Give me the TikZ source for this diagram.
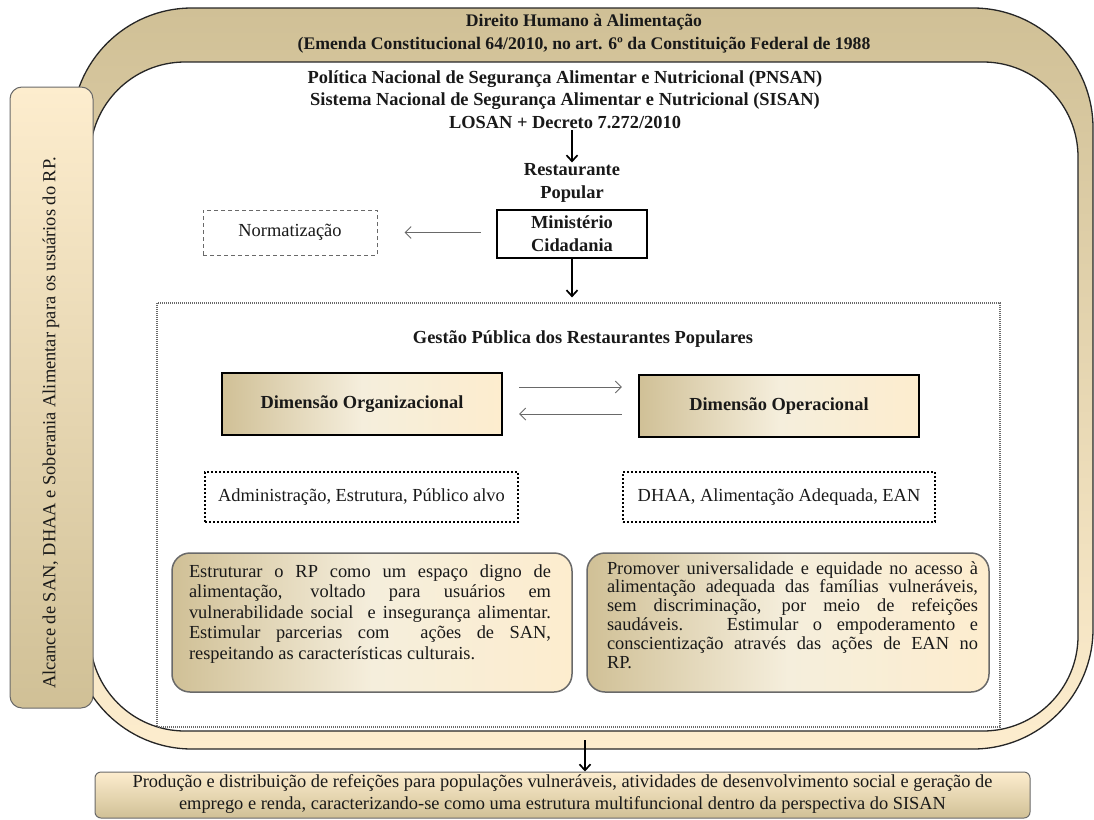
\documentclass[tikz,border=0pt]{standalone}
\usepackage{fontspec}
\setmainfont{Liberation Serif}
\usetikzlibrary{arrows.meta}
\definecolor{tanD}{RGB}{208,192,150}
\definecolor{creamL}{RGB}{253,237,206}
\definecolor{creamM}{RGB}{245,238,220}
\definecolor{txt}{RGB}{25,25,25}
\definecolor{grayline}{RGB}{105,105,105}
\tikzset{
  frameouter/.style={draw=black!85, line width=1.3pt, rounded corners=120pt, top color=tanD, bottom color=creamL},
  frameinner/.style={draw=black!85, line width=1.3pt, rounded corners=95pt, fill=white},
  sidebar/.style={draw=grayline, line width=1pt, rounded corners=12pt, top color=creamL, bottom color=tanD},
  banner/.style={draw=grayline, line width=1pt, rounded corners=6pt, top color=creamL, bottom color=tanD},
  plain/.style={text=txt, font=\fontsize{18.4}{22}\selectfont, align=center, inner sep=1pt},
  boldtxt/.style={text=txt, font=\fontsize{18.4}{22.7}\selectfont\bfseries, align=center, inner sep=1pt},
  titletxt/.style={text=txt, font=\fontsize{17.7}{23}\selectfont\bfseries, align=center, inner sep=1pt},
  minbox/.style={draw=black, line width=2.2pt, fill=white},
  normbox/.style={draw=grayline, line width=1pt, dash pattern=on 4pt off 3pt},
  gestbox/.style={draw=grayline, line width=1.2pt, dash pattern=on 1pt off 1pt},
  dimbox/.style={draw=black, line width=2.2pt, left color=tanD, right color=creamL, middle color=creamM},
  dotbox/.style={draw=black, line width=2pt, dash pattern=on 2pt off 2pt},
  roundbox/.style={draw=grayline, line width=1.5pt, rounded corners=18pt, left color=tanD, right color=creamL, middle color=creamM},
  bigarrow/.style={draw=black, line width=1.7pt, -{Straight Barb[length=6pt,width=11pt,line width=1.7pt]}},
  thinarrow/.style={draw=grayline, line width=0.9pt, -{Straight Barb[length=6pt,width=12pt,line width=0.9pt]}},
  paraL/.style={text=txt, font=\fontsize{18.4}{20.5}\selectfont, align=justify, inner sep=0pt},
  paraR/.style={text=txt, font=\fontsize{18.4}{18.9}\selectfont, align=justify, inner sep=0pt}
}
\begin{document}
\begin{tikzpicture}[x=1pt,y=-1pt]
\useasboundingbox (0,0) rectangle (1094,819);
% frame
\node[frameouter, minimum width=1021pt, minimum height=741pt] (outer) at (582.5,378.5) {};
\node[frameinner, minimum width=988pt, minimum height=669pt] (inner) at (584,396.5) {};
% side bar
\node[sidebar, minimum width=83pt, minimum height=621pt] (bar) at (51.5,397.5) {};
\node[plain, rotate=90] (bartext) at (51,423) {Alcance de SAN, DHAA e Soberania Alimentar para os usuários do RP.};
% banner
\node[banner, minimum width=935pt, minimum height=46pt] (banner) at (562.5,795) {};
\node[plain] (bannertext) at (562.5,794) {Produção e distribuição de refeições para populações vulneráveis, atividades de desenvolvimento social e geração de\\emprego e renda, caracterizando-se como uma estrutura multifuncional dentro da perspectiva do SISAN};
% titles
\node[titletxt] (title) at (584,34) {Direito Humano à Alimentação\\(Emenda Constitucional 64/2010, no art. 6º da Constituição Federal de 1988};
\node[boldtxt] (pnsan) at (565,99.5) {Política Nacional de Segurança Alimentar e Nutricional (PNSAN)\\Sistema Nacional de Segurança Alimentar e Nutricional (SISAN)\\LOSAN + Decreto 7.272/2010};
\node[boldtxt] (rp) at (572,183) {Restaurante\\Popular};
\node[minbox, minimum width=150pt, minimum height=48pt] (min) at (572,234) {};
\node[boldtxt] (mintext) at (min.center) {Ministério\\Cidadania};
\node[normbox, minimum width=174pt, minimum height=45pt] (norm) at (290,232.5) {};
\node[plain] (normtext) at (norm.center) {Normatização};
% gestao
\node[gestbox, minimum width=843pt, minimum height=424pt] (gest) at (578.5,515) {};
\node[boldtxt] (gesttitle) at (583,339) {Gestão Pública dos Restaurantes Populares};
\node[dimbox, minimum width=280pt, minimum height=62pt] (dorg) at (362,404) {};
\node[boldtxt] (dorgtext) at (dorg.center) {Dimensão Organizacional};
\node[dimbox, minimum width=280pt, minimum height=62pt] (dope) at (779,406) {};
\node[boldtxt] (dopetext) at (dope.center) {Dimensão Operacional};
\node[dotbox, minimum width=313pt, minimum height=50pt] (adm) at (361.5,497) {};
\node[plain] (admtext) at (adm.center) {Administração, Estrutura, Público alvo};
\node[dotbox, minimum width=312pt, minimum height=50pt] (dhaa) at (779,497) {};
\node[plain] (dhaatext) at (dhaa.center) {DHAA, Alimentação Adequada, EAN};
\node[roundbox, minimum width=400pt, minimum height=139pt] (lbox) at (372,622.5) {};
\node[paraL, text width=362pt] (ltext) at (370,614) {\hyphenpenalty=10000 Estruturar o RP como um espaço digno de\linebreak alimentação, voltado para usuários em\linebreak vulnerabilidade social\ \ e insegurança alimentar.\linebreak Estimular parcerias com\ \ ações de SAN,\linebreak respeitando as características culturais.};
\node[roundbox, minimum width=402pt, minimum height=139pt] (rbox) at (788,622.5) {};
\node[paraR, text width=371pt] (rtext) at (792.5,615) {\hyphenpenalty=10000 Promover universalidade e equidade no acesso à\linebreak alimentação adequada das famílias vulneráveis,\linebreak sem discriminação, por meio de refeições\linebreak saudáveis.\ \ \ Estimular o empoderamento e\linebreak conscientização através das ações de EAN no\linebreak RP.};
% arrows
\draw[bigarrow] (rp.north |- pnsan.south) -- (rp.north);
\draw[bigarrow] (min.south) -- ([yshift=5pt]gest.north -| min.south);
\draw[thinarrow, shorten <=15pt, shorten >=27pt] (min.west |- norm.east) -- (norm.east);
\draw[thinarrow, shorten <=16pt, shorten >=16pt] ([yshift=17pt]dorg.east) -- ([yshift=17pt]dorg.east -| dope.west);
\draw[thinarrow, shorten <=16pt, shorten >=16pt] ([yshift=-10pt]dorg.east -| dope.west) -- ([yshift=-10pt]dorg.east);
\coordinate (fb) at (585,740);
\draw[bigarrow] (fb) -- (banner.north -| fb);
\end{tikzpicture}
\end{document}
